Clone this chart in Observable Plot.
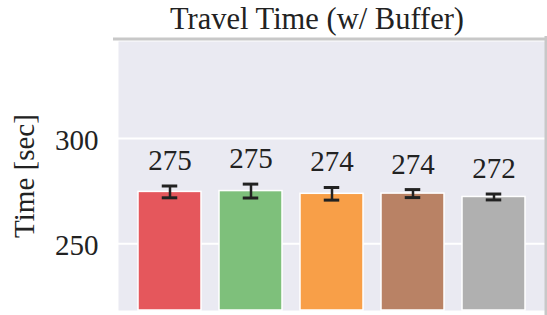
<!DOCTYPE html>
<html><head><meta charset="utf-8">
<script src="https://cdn.jsdelivr.net/npm/d3@7"></script>
<script src="https://cdn.jsdelivr.net/npm/@observablehq/plot@0.6"></script>
<style>
body{margin:0;background:#fff}
#chart svg, #chart svg text { font-family: "Liberation Serif", "DejaVu Serif" !important; }
</style>
</head><body><div id="chart"></div>
<script>
const categories = ["1", "2", "3", "4", "5"];
const means = [274.6, 275.0, 273.7, 273.8, 272.2];
const errors = [2.8, 3.3, 3.0, 1.9, 1.4];
const labels = ["275", "275", "274", "274", "272"];
const colors = ["#E5575C", "#7EC07B", "#F89F48", "#B98265", "#B0B0B0"];
const yTicks = [250, 300];
const yDomain = [218.3, 346];
const title = "Travel Time (w/ Buffer)";
const yLabel = "Time [sec]";

const data = categories.map((c, i) => ({c, mean: means[i], err: errors[i], label: labels[i], base: yDomain[0]}));
const ink = "#222222";

const chart = Plot.plot({
  width: 547, height: 315,
  marginLeft: 118, marginRight: 2, marginTop: 41, marginBottom: 5,
  style: {fontSize: "29px", color: ink, background: "white", overflow: "visible"},
  x: {domain: categories, paddingInner: 0.22, paddingOuter: 0.23, axis: null},
  y: {domain: yDomain},
  color: {domain: categories, range: colors},
  marks: [
    Plot.frame({fill: "#EAEAF2", stroke: null}),
    Plot.gridY(yTicks, {stroke: "white", strokeOpacity: 1, strokeWidth: 2}),
    Plot.barY(data, {x: "c", y1: "base", y2: "mean", fill: "c", stroke: "white", strokeWidth: 1.5}),
    Plot.ruleX(data, {x: "c", y1: d => d.mean - d.err, y2: d => d.mean + d.err, stroke: ink, strokeWidth: 2.5}),
    Plot.tickY(data, {x: "c", y: d => d.mean - d.err, stroke: ink, strokeWidth: 3, insetLeft: 23.75, insetRight: 23.75}),
    Plot.tickY(data, {x: "c", y: d => d.mean + d.err, stroke: ink, strokeWidth: 3, insetLeft: 23.75, insetRight: 23.75}),
    Plot.text(data, {x: "c", y: d => d.mean + d.err, text: "label", lineAnchor: "bottom", dy: -16, fontSize: 29, fill: ink}),
    Plot.axisY({ticks: yTicks, tickSize: 0, tickPadding: 20, fontSize: 29, dy: 2, label: yLabel, labelAnchor: "center", labelArrow: "none", labelOffset: 105}),
    Plot.text([title], {frameAnchor: "top", lineAnchor: "bottom", dy: -12.7, dx: -15, fontSize: 30.5, fill: ink}),
    Plot.frame({anchor: "top", stroke: "#C8C8C8", strokeWidth: 3, insetTop: -2.5, insetLeft: -4, insetRight: -2}),
    Plot.frame({anchor: "right", stroke: "#C8C8C8", strokeWidth: 3, insetRight: -0.5, insetTop: -4, insetBottom: -5})
  ]
});
document.getElementById("chart").appendChild(chart);
</script>
</body></html>
